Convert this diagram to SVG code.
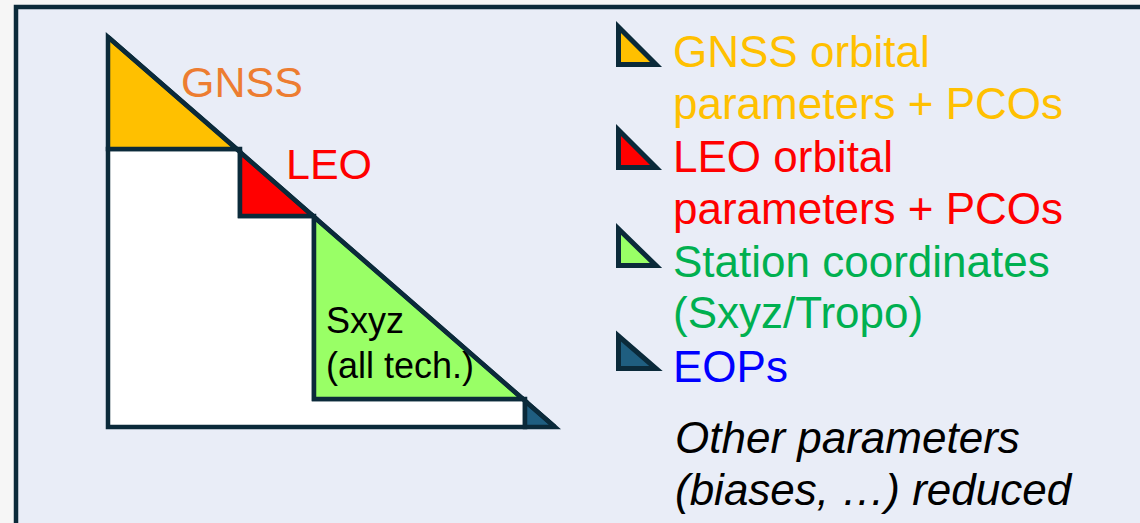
<svg xmlns="http://www.w3.org/2000/svg" width="1140" height="523" viewBox="0 0 1140 523">
  <style>
    .edge { stroke: #0b2a3a; stroke-width: 4.5; stroke-linejoin: miter; }
    .key { stroke: #0b2a3a; stroke-width: 5; stroke-linejoin: miter; }
    text { font-family: "Liberation Sans", Arial, sans-serif; }
    .lbl { font-size: 43px; }
    .big { font-size: 44px; }
    .mid { font-size: 36px; fill: #000000; }
    .gnss { fill: #ffc000; }
    .leo { fill: #ff0000; }
    .sta { fill: #00b050; }
    .eop { fill: #0000ff; }
    .note { font-style: italic; fill: #000000; }
  </style>

  <!-- page and panel -->
  <rect x="0" y="0" width="1140" height="523" fill="#f6f6f6"/>
  <rect id="panel" x="16" y="7" width="1140" height="530" fill="#e9edf7" stroke="#0b2a3a" stroke-width="4.5"/>

  <!-- normal-matrix triangle, split into parameter blocks -->
  <g id="matrix">
    <g id="reduced-block">
      <path class="edge" fill="#ffffff" d="M108,149 H240 V216 H314 V399 H525 V427 H108 Z"/>
    </g>
    <g id="gnss-block">
      <polygon class="edge" fill="#ffc000" points="108,37 108,149 237,149"/>
      <text class="lbl" x="181" y="97" fill="#ed7d31">GNSS</text>
    </g>
    <g id="leo-block">
      <polygon class="edge" fill="#ff0000" points="240,152 240,216 313,216"/>
      <text class="lbl leo" x="286" y="179">LEO</text>
    </g>
    <g id="sxyz-block">
      <polygon class="edge" fill="#99ff66" points="314,217 314,399 523,399"/>
      <text class="mid" x="326" y="333">Sxyz</text>
      <text class="mid" x="326" y="378">(all tech.)</text>
    </g>
    <g id="eop-block">
      <polygon class="edge" fill="#1f5e80" points="525,401 525,427 555,427"/>
    </g>
    <line class="edge" x1="108" y1="37" x2="555" y2="427"/>
  </g>

  <!-- legend -->
  <g id="legend-gnss">
    <polygon class="key" fill="#ffc000" points="618.5,27 618.5,64.5 656,64.5"/>
    <text class="big gnss" x="673" y="67">GNSS orbital</text>
    <text class="big gnss" x="673" y="119">parameters + PCOs</text>
  </g>
  <g id="legend-leo">
    <polygon class="key" fill="#ff0000" points="618.5,130 618.5,167.5 656,167.5"/>
    <text class="big leo" x="673" y="172">LEO orbital</text>
    <text class="big leo" x="673" y="224">parameters + PCOs</text>
  </g>
  <g id="legend-sta">
    <polygon class="key" fill="#99ff66" points="618.5,229 618.5,265.5 656,265.5"/>
    <text class="big sta" x="673" y="277">Station coordinates</text>
    <text class="big sta" x="673" y="328">(Sxyz/Tropo)</text>
  </g>
  <g id="legend-eop">
    <polygon class="key" fill="#1f5e80" points="618.5,336 618.5,368.5 656,368.5"/>
    <text class="big eop" x="673" y="382">EOPs</text>
  </g>
  <g id="legend-other">
    <text class="big note" x="675" y="453">Other parameters</text>
    <text class="big note" x="675" y="505">(biases, …) reduced</text>
  </g>
</svg>
